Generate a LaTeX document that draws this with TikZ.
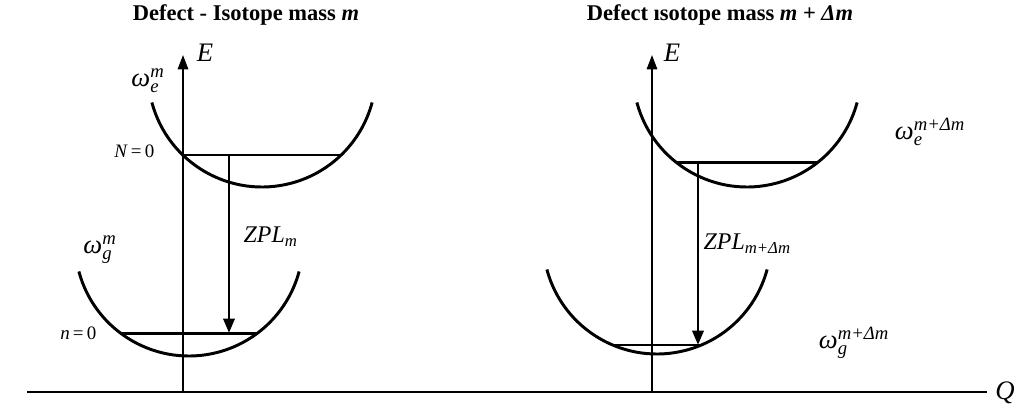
\documentclass[tikz,border=0pt]{standalone}
\usepackage{amsmath}
\usepackage{fontspec}
\setmainfont{Liberation Serif}
\usetikzlibrary{arrows.meta}
\newcommand\ti[1]{\text{\itshape #1}}

\begin{document}
\begin{tikzpicture}[
  well/.style={line width=2.1pt},
  lvl/.style={line width=2.1pt},
  axis/.style={line width=1.4pt},
  zpl/.style={line width=2.1pt, -{Triangle[length=0.36cm,width=0.28cm]}},
  lbl/.style={font=\fontsize{17}{19}\selectfont\itshape, inner sep=1pt},
  big/.style={font=\fontsize{19}{21}\selectfont\itshape, inner sep=1pt},
  omega/.style={font=\fontsize{19}{21}\selectfont\itshape, inner sep=1pt},
  small/.style={font=\fontsize{13.5}{16}\selectfont, inner sep=1pt},
  ttl/.style={font=\fontsize{16}{19}\selectfont\bfseries, inner sep=1pt}]
  \useasboundingbox (0,0) rectangle (25.475,10.225);
  \def\r{2.85}
  \coordinate (qL) at (0.675,0.425);
  \coordinate (qR) at (24.675,0.425);
  \coordinate (oL) at (4.575,0.425);
  \coordinate (tL) at (4.575,8.85);
  \coordinate (oR) at (16.3,0.425);
  \coordinate (tR) at (16.3,8.85);
  \draw[axis] (qL) -- (qR);
  \draw[axis, -{Triangle[length=0.36cm,width=0.26cm]}] (oL) -- (tL);
  \draw[axis, -{Triangle[length=0.36cm,width=0.26cm]}] (oR) -- (tR);
  % wells: name / vertex / angles of the level line
  \foreach \n/\x/\y/\a/\b in {eL/6.55/5.55/226/314, gL/4.725/1.325/233/307,
                              eR/18.675/5.55/232.1/307.9, gR/16.425/1.375/247.1/292.9}{
     \coordinate (\n) at (\x,\y+\r);
     \draw[well] (\n) ++(195:\r) arc (195:345:\r);
     \coordinate (\n a) at ([shift={(\a:\r)}]\n);
     \coordinate (\n b) at ([shift={(\b:\r)}]\n);
     \draw[lvl] (\n a) -- (\n b);}
  \coordinate (zLt) at (5.725,6.35);
  \coordinate (zLb) at (5.725,1.9);
  \coordinate (zRt) at (17.45,6.15);
  \coordinate (zRb) at (17.45,1.6);
  \draw[zpl] (zLt) -- (zLb);
  \draw[zpl] (zRt) -- (zRb);
  \node[ttl] (titL) at (6.15,9.85) {Defect - Isotope mass \textit{m}};
  \node[ttl] (titR) at (18.0,9.85) {Defect ısotope mass \textit{m} + \textit{Δm}};
  \node[big] (EL) at (5.125,8.9) {E};
  \node[big] (ER) at (16.8,8.9) {E};
  \node[big] (Q) at (25.125,0.4) {Q};
  \node[omega] (weL) at (3.7,8.2) {$\ti{ω}_{\ti{e}}^{\ti{m}}$};
  \node[omega] (wgL) at (2.5,3.975) {$\ti{ω}_{\ti{g}}^{\ti{m}}$};
  \node[omega] (weR) at (23.25,6.925) {$\ti{ω}_{\ti{e}}^{\ti{m+Δm}}$};
  \node[omega] (wgR) at (21.35,1.65) {$\ti{ω}_{\ti{g}}^{\ti{m+Δm}}$};
  \node[small, anchor=east] (NL) at (3.9,6.45) {\textit{N}\,=\,0};
  \node[small, anchor=east] (nL) at (2.45,1.9) {\textit{n}\,=\,0};
  \node[lbl, anchor=west] (zplL) at (6.05,4.3) {ZPL$_{\ti{m}}$};
  \node[lbl, anchor=west] (zplR) at (17.55,4.125) {ZPL$_{\ti{m+Δm}}$};
\end{tikzpicture}
\end{document}
